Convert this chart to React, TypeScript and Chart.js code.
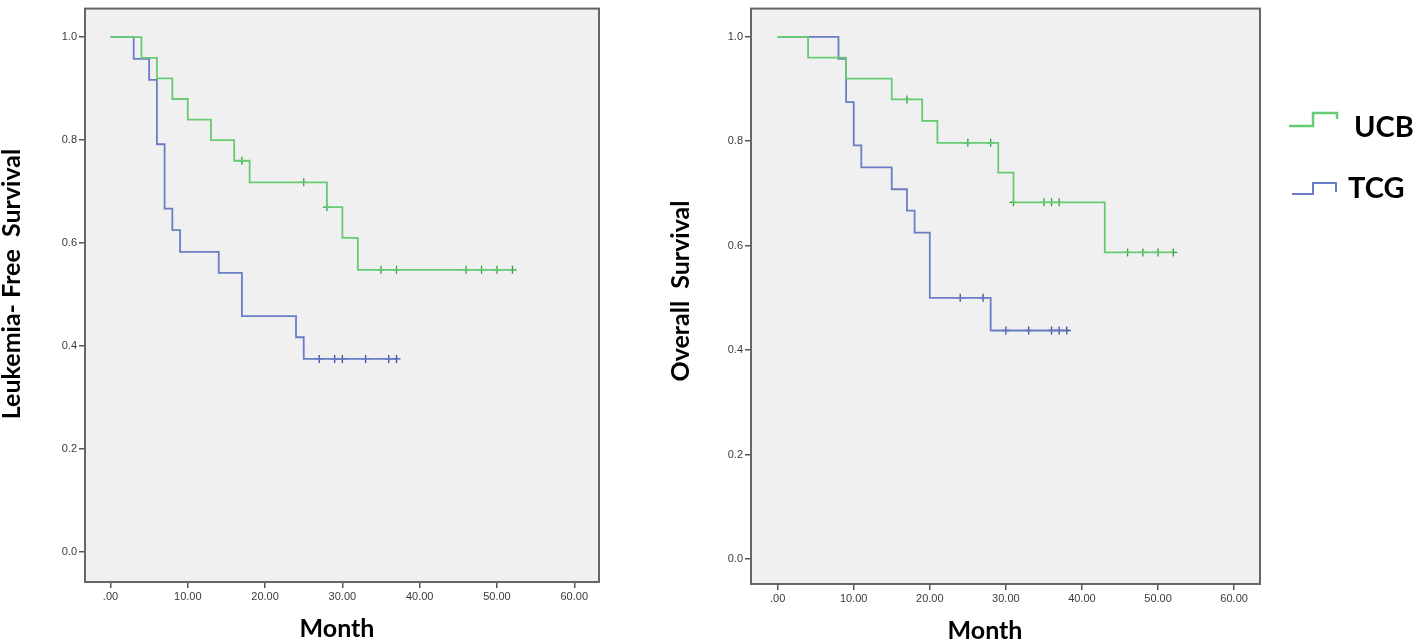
import React, { useEffect, useRef } from "react";
import { Chart, registerables } from "chart.js";

Chart.register(...registerables);

// ---------- text ----------
const seriesNames = ["UCB", "TCG"];
const xTitle = "Month";
const lfsTitle = "Leukemia- Free  Survival";
const osTitle = "Overall  Survival";

// ---------- ticks ----------
const xTickValues = [0, 10, 20, 30, 40, 50, 60];
const xTickLabels = [".00", "10.00", "20.00", "30.00", "40.00", "50.00", "60.00"];
const yTickValues = [0, 0.2, 0.4, 0.6, 0.8, 1.0];
const yTickLabels = ["0.0", "0.2", "0.4", "0.6", "0.8", "1.0"];

// ---------- Leukemia-free survival ----------
const lfsUcbTimes = [0, 4, 6, 8, 10, 13, 16, 18, 28, 30, 32, 52];
const lfsUcbSurv = [1.0, 0.96, 0.92, 0.88, 0.84, 0.8, 0.76, 0.718, 0.67, 0.61, 0.548, 0.548];
const lfsUcbCensored = [17, 25, 28, 35, 37, 46, 48, 50, 52];

const lfsTcgTimes = [0, 3, 5, 6, 7, 8, 9, 14, 17, 24, 25, 37];
const lfsTcgSurv = [1.0, 0.958, 0.917, 0.792, 0.667, 0.625, 0.583, 0.542, 0.458, 0.417, 0.375, 0.375];
const lfsTcgCensored = [27, 29, 30, 33, 36, 37];

// ---------- Overall survival ----------
const osUcbTimes = [0, 4, 9, 15, 19, 21, 29, 31, 43, 52];
const osUcbSurv = [1.0, 0.96, 0.92, 0.88, 0.839, 0.797, 0.74, 0.683, 0.587, 0.587];
const osUcbCensored = [17, 25, 28, 31, 35, 36, 37, 46, 48, 50, 52];

const osTcgTimes = [0, 8, 9, 10, 11, 15, 17, 18, 20, 28, 38];
const osTcgSurv = [1.0, 0.958, 0.875, 0.792, 0.75, 0.708, 0.667, 0.625, 0.5, 0.4375, 0.4375];
const osTcgCensored = [24, 27, 30, 33, 36, 37, 38];

// ---------- styles ----------
const GREEN = "#66cb71";
const GREEN_DARK = "#2f9e3c";
const BLUE = "#6a7cc6";
const BLUE_DARK = "#3b4d9c";
const PLOT_BG = "#f0f0f0";
const FRAME = "#666666";
const TICK_TEXT = "#3a3a3a";
const TICK_FONT = { family: "'Liberation Sans', Arial, sans-serif", size: 11 };
const TITLE_FONT = "bold 25px Lato, 'Open Sans', sans-serif";
const LEGEND_FONT = "bold 29px Lato, 'Open Sans', sans-serif";

function survAt(times: number[], surv: number[], t: number) {
  let v = surv[0];
  for (let i = 0; i < times.length; i++) {
    if (times[i] <= t) v = surv[i];
  }
  return v;
}

function stepData(times: number[], surv: number[]) {
  return times.map((t, i) => ({ x: t, y: surv[i] }));
}

function censorData(times: number[], surv: number[], cens: number[]) {
  return cens.map((t) => ({ x: t, y: survAt(times, surv, t) }));
}

const framePlugin = {
  id: "frame",
  beforeDraw(chart: any) {
    const { ctx, chartArea: a } = chart;
    ctx.save();
    ctx.fillStyle = PLOT_BG;
    ctx.fillRect(a.left, a.top, a.right - a.left, a.bottom - a.top);
    ctx.restore();
  },
  afterDraw(chart: any) {
    const { ctx, chartArea: a } = chart;
    ctx.save();
    ctx.strokeStyle = FRAME;
    ctx.lineWidth = 2;
    ctx.strokeRect(a.left, a.top, a.right - a.left, a.bottom - a.top);
    ctx.restore();
  },
};

function titlePlugin(p: { yText: string; yX: number; yY: number; xText: string; xX: number; xY: number }) {
  return {
    id: "axisTitles",
    afterDraw(chart: any) {
      const ctx = chart.ctx;
      ctx.save();
      ctx.fillStyle = "#000";
      ctx.font = TITLE_FONT;
      ctx.textAlign = "center";
      ctx.textBaseline = "alphabetic";
      ctx.fillText(p.xText, p.xX, p.xY);
      ctx.translate(p.yX, p.yY);
      ctx.rotate(-Math.PI / 2);
      ctx.fillText(p.yText, 0, 0);
      ctx.restore();
    },
  };
}

const legendPlugin = {
  id: "kmLegend",
  afterDraw(chart: any) {
    const ctx = chart.ctx;
    const ox = 660;
    const items = [
      { color: GREEN, pts: [[1289, 126], [1313, 126], [1313, 113], [1337, 113], [1337, 119]], tx: 1354, ty: 137, w: 2.5 },
      { color: BLUE, pts: [[1292, 194], [1313, 194], [1313, 183], [1336, 183], [1336, 192]], tx: 1348, ty: 198, w: 2 },
    ];
    ctx.save();
    items.forEach((it, i) => {
      ctx.strokeStyle = it.color;
      ctx.lineWidth = it.w;
      ctx.beginPath();
      it.pts.forEach((p, j) => {
        if (j === 0) ctx.moveTo(p[0] - ox, p[1]);
        else ctx.lineTo(p[0] - ox, p[1]);
      });
      ctx.stroke();
      ctx.fillStyle = "#000";
      ctx.font = LEGEND_FONT;
      ctx.textAlign = "left";
      ctx.textBaseline = "alphabetic";
      ctx.fillText(seriesNames[i], it.tx - ox, it.ty);
    });
    ctx.restore();
  },
};

function makeConfig(o: {
  ucbT: number[]; ucbS: number[]; ucbC: number[];
  tcgT: number[]; tcgS: number[]; tcgC: number[];
  xMin: number; xMax: number; yMin: number; yMax: number;
  padding: any; yWidth: number; xHeight: number; extraPlugins: any[];
}) {
  return {
    type: "line",
    data: {
      datasets: [
        {
          label: seriesNames[0],
          data: stepData(o.ucbT, o.ucbS),
          stepped: true,
          borderColor: GREEN,
          borderWidth: 1.8,
          pointRadius: 0,
          fill: false,
        },
        {
          label: seriesNames[1],
          data: stepData(o.tcgT, o.tcgS),
          stepped: true,
          borderColor: BLUE,
          borderWidth: 1.8,
          pointRadius: 0,
          fill: false,
        },
        {
          type: "scatter",
          label: seriesNames[0] + " censored",
          data: censorData(o.ucbT, o.ucbS, o.ucbC),
          showLine: false,
          pointStyle: "cross",
          pointRadius: 4,
          borderColor: GREEN_DARK,
          backgroundColor: GREEN_DARK,
          borderWidth: 1.3,
        },
        {
          type: "scatter",
          label: seriesNames[1] + " censored",
          data: censorData(o.tcgT, o.tcgS, o.tcgC),
          showLine: false,
          pointStyle: "cross",
          pointRadius: 4,
          borderColor: BLUE_DARK,
          backgroundColor: BLUE_DARK,
          borderWidth: 1.3,
        },
      ],
    },
    options: {
      animation: false,
      responsive: false,
      maintainAspectRatio: false,
      layout: { padding: o.padding },
      plugins: {
        legend: { display: false },
        tooltip: { enabled: false },
        title: { display: false },
      },
      scales: {
        x: {
          type: "linear",
          min: o.xMin,
          max: o.xMax,
          afterBuildTicks: (s: any) => {
            s.ticks = xTickValues.map((v) => ({ value: v }));
          },
          afterFit: (s: any) => {
            s.height = o.xHeight;
          },
          ticks: {
            callback: (_v: any, i: number) => xTickLabels[i],
            font: TICK_FONT,
            color: TICK_TEXT,
            padding: 2,
            maxRotation: 0,
            autoSkip: false,
          },
          grid: {
            display: true,
            drawOnChartArea: false,
            drawTicks: true,
            tickLength: 6,
            color: "#555",
            lineWidth: 1.5,
          },
          border: { display: false },
        },
        y: {
          type: "linear",
          min: o.yMin,
          max: o.yMax,
          afterBuildTicks: (s: any) => {
            s.ticks = yTickValues.map((v) => ({ value: v }));
          },
          afterFit: (s: any) => {
            s.width = o.yWidth;
          },
          ticks: {
            callback: (_v: any, i: number) => yTickLabels[i],
            font: TICK_FONT,
            color: TICK_TEXT,
            padding: 2,
            autoSkip: false,
          },
          grid: {
            display: true,
            drawOnChartArea: false,
            drawTicks: true,
            tickLength: 6,
            color: "#555",
            lineWidth: 1.5,
          },
          border: { display: false },
        },
      },
    },
    plugins: [framePlugin, ...o.extraPlugins],
  };
}

function ChartCanvas(props: { left: number; width: number; height: number; build: () => any }) {
  const ref = useRef<HTMLCanvasElement | null>(null);
  useEffect(() => {
    const chart = new Chart(ref.current as HTMLCanvasElement, props.build());
    return () => chart.destroy();
  }, []);
  return (
    <canvas
      ref={ref}
      width={props.width}
      height={props.height}
      style={{ position: "absolute", left: props.left, top: 0, width: props.width, height: props.height }}
    />
  );
}

export default function App() {
  const buildLeft = () =>
    makeConfig({
      ucbT: lfsUcbTimes, ucbS: lfsUcbSurv, ucbC: lfsUcbCensored,
      tcgT: lfsTcgTimes, tcgS: lfsTcgSurv, tcgC: lfsTcgCensored,
      xMin: -3.3, xMax: 63.2, yMin: -0.0585, yMax: 1.0556,
      padding: { top: 5, right: 21, left: 0, bottom: 0 },
      yWidth: 85, xHeight: 58,
      extraPlugins: [titlePlugin({ yText: lfsTitle, yX: 20, yY: 284, xText: xTitle, xX: 337, xY: 637 })],
    });
  const buildRight = () =>
    makeConfig({
      ucbT: osUcbTimes, ucbS: osUcbSurv, ucbC: osUcbCensored,
      tcgT: osTcgTimes, tcgS: osTcgSurv, tcgC: osTcgCensored,
      xMin: -3.5, xMax: 63.4, yMin: -0.048, yMax: 1.054,
      padding: { top: 7, right: 158, left: 0, bottom: 0 },
      yWidth: 91, xHeight: 56,
      extraPlugins: [
        titlePlugin({ yText: osTitle, yX: 689 - 660, yY: 291, xText: xTitle, xX: 985 - 660, xY: 639 }),
        legendPlugin,
      ],
    });
  return (
    <div style={{ position: "absolute", left: 0, top: 0, width: 1418, height: 640, background: "#fff", overflow: "hidden" }}>
      <ChartCanvas left={0} width={620} height={640} build={buildLeft} />
      <ChartCanvas left={660} width={758} height={640} build={buildRight} />
    </div>
  );
}
